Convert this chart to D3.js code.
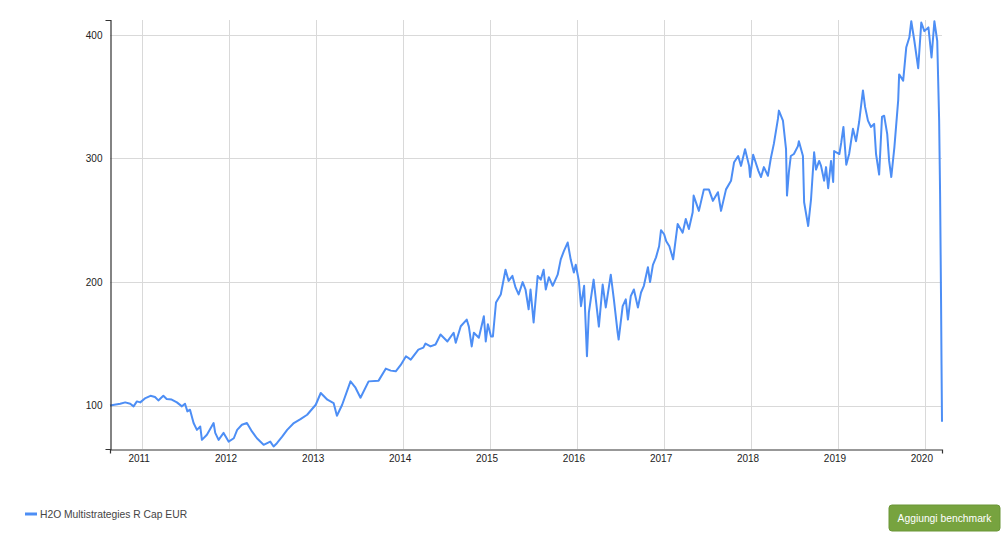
<!DOCTYPE html>
<html>
<head>
<meta charset="utf-8">
<script src="https://cdn.jsdelivr.net/npm/d3@7/dist/d3.min.js"></script>
<style>
  html, body { margin: 0; padding: 0; background: #fff; }
  svg { display: block; font-family: Arial, "Liberation Sans", sans-serif; }
</style>
</head>
<body>
<svg id="chart" width="1004" height="535"></svg>
<script>
// ---- DATA ----
const seriesName = "H2O Multistrategies R Cap EUR";
const buttonLabel = "Aggiungi benchmark";
const yTicks = [100, 200, 300, 400];
const xTickYears = [2011, 2012, 2013, 2014, 2015, 2016, 2017, 2018, 2019, 2020];

const dates = [
  "2010-08-19","2010-10-01","2010-10-22","2010-11-12","2010-11-26","2010-12-10","2010-12-24","2011-01-15",
  "2011-02-05","2011-02-24","2011-03-10","2011-03-31","2011-04-14","2011-05-05","2011-05-27","2011-06-17",
  "2011-06-30","2011-07-10","2011-07-21","2011-08-05","2011-08-19","2011-09-02","2011-09-09","2011-09-30",
  "2011-10-28","2011-11-04","2011-11-18","2011-12-09","2011-12-30","2012-01-21","2012-02-04","2012-02-24",
  "2012-03-16","2012-04-06","2012-04-27","2012-05-25","2012-06-22","2012-07-06","2012-07-20","2012-08-11",
  "2012-09-01","2012-09-29","2012-10-27","2012-11-24","2012-12-30","2013-01-20","2013-02-17","2013-03-15",
  "2013-03-29","2013-04-20","2013-05-25",
  "2013-06-15","2013-07-06","2013-08-09","2013-09-20","2013-10-20","2013-11-10","2013-12-01","2013-12-22",
  "2014-01-13","2014-02-02","2014-03-06","2014-03-27","2014-04-05","2014-04-26","2014-05-17","2014-06-07",
  "2014-07-06","2014-08-01","2014-08-10","2014-08-31","2014-09-25","2014-10-04","2014-10-16","2014-10-25",
  "2014-11-15","2014-12-06","2014-12-14","2014-12-23","2015-01-05","2015-01-13","2015-01-26","2015-02-15",
  "2015-03-07","2015-03-20","2015-04-05","2015-04-18","2015-05-01","2015-05-18","2015-05-30","2015-06-12",
  "2015-06-20","2015-07-03","2015-07-20","2015-08-02","2015-08-14","2015-08-23","2015-09-05","2015-09-21",
  "2015-10-12","2015-10-25","2015-11-07","2015-11-23","2015-12-06","2015-12-19","2015-12-27","2016-01-09",
  "2016-01-18","2016-01-31","2016-02-12","2016-02-20","2016-03-11","2016-04-02","2016-04-18","2016-05-01",
  "2016-05-22","2016-06-04","2016-06-20","2016-06-24","2016-07-11","2016-07-24","2016-08-02","2016-08-14",
  "2016-08-27","2016-09-13","2016-09-26","2016-10-08","2016-10-25","2016-11-03","2016-11-15","2016-11-28",
  "2016-12-11","2016-12-19","2017-01-01","2017-01-10","2017-01-23","2017-02-08","2017-02-27","2017-03-20",
  "2017-04-02","2017-04-15","2017-05-01","2017-05-05","2017-05-27","2017-06-17","2017-07-08","2017-07-25",
  "2017-08-15","2017-08-28","2017-09-18","2017-10-09","2017-10-22","2017-11-08","2017-11-20","2017-12-07",
  "2017-12-24","2017-12-28","2018-01-10","2018-02-01","2018-02-12","2018-02-24","2018-03-13","2018-03-25",
  "2018-04-07","2018-04-24","2018-04-28","2018-05-15","2018-05-28","2018-06-01","2018-06-09","2018-06-17",
  "2018-06-30","2018-07-17","2018-07-21","2018-08-07","2018-08-12","2018-08-29","2018-09-10","2018-09-23",
  "2018-10-01","2018-10-14","2018-10-22","2018-11-04","2018-11-12","2018-11-21","2018-12-03","2018-12-12",
  "2018-12-16","2019-01-07","2019-01-15","2019-01-24","2019-02-05","2019-02-17","2019-03-05","2019-03-18",
  "2019-03-31","2019-04-16","2019-04-25","2019-05-07","2019-05-20","2019-06-02","2019-06-10","2019-06-23",
  "2019-07-05","2019-07-14","2019-07-27","2019-08-04","2019-08-13","2019-08-26","2019-09-11","2019-09-15",
  "2019-10-02","2019-10-15","2019-10-28","2019-11-05","2019-11-18","2019-12-04","2019-12-17","2019-12-30",
  "2020-01-16","2020-01-29","2020-02-10","2020-02-22","2020-03-01","2020-03-05","2020-03-09","2020-03-11",
  "2020-03-13"
];

const values = [
  100.2,101.6,102.7,101.6,99.5,103.5,102.7,106.2,
  108,107,104.3,108,105.4,105,102.7,99.5,
  101.6,95.4,96.8,86,80.5,83.2,72.4,76.5,
  86,78,72.4,78,71,73.7,80.5,84.6,
  86,79.2,73.7,68.4,71,67,69.7,75,
  80.5,86,89.2,92.7,100.8,110.3,104.9,102.2,
  91.9,100.8,119.7,
  114.6,106.5,119.7,120.3,130,128.4,127.8,133,
  140,137.3,145.4,147,150.3,148,149.5,157.6,
  152,159,151,164.3,169.7,164,148,159,
  155,172.4,152,166,156,156,183.5,190,
  210,201,205,195.7,190,200,194,178,
  194,167.3,205,202,210,194,204,197,
  206,218.4,225,232,218,207.7,214,201,
  180.5,197,140,175.4,202,164,198,179.5,
  206,186,159,153.5,180.5,186,169.7,188.6,
  194,179.5,191.6,197,212,200,214,220,
  229,242,238.7,233,229,218.4,247,240,
  251,243,256.5,270,257.6,275,275,265.7,
  272.7,257.6,275,282,297,302,294,307.4,
  294,285,303,290,285,293,286,300,
  312,332,338.7,330.7,307.6,270,289,302,
  303.6,310,314,302,264.6,245.4,267,305,
  291,298,294,282,293,276,298,281,
  306,303.6,313,325.5,295,303.6,324,314,
  329.5,355,341.7,330.6,325.5,328,303.6,287,
  333.6,334.6,319.7,298,285,309,347,368,
  363,390,398,411,395,373,410,403,
  406,381.7,411,395,330.7,271,186,133,
  87
];

// ---- CHART ----
const svg = d3.select("#chart");
const margin = { left: 110, right: 62, top: 20, bottom: 86 };
const W = 1004, H = 535;
const x0 = margin.left, x1 = W - margin.right;
const y0 = margin.top, y1 = H - margin.bottom;

const parse = d3.timeParse("%Y-%m-%d");
const data = dates.map((d, i) => ({ date: parse(d), value: values[i] }));

const x = d3.scaleTime()
  .domain(d3.extent(data, d => d.date))
  .range([x0, x1]);
const y = d3.scaleLinear()
  .domain([65, 412])
  .range([y1, y0]);

const tickDates = xTickYears.map(yr => new Date(yr, 0, 1));

// gridlines
svg.append("g")
  .selectAll("line")
  .data(yTicks)
  .join("line")
  .attr("x1", x0).attr("x2", x1)
  .attr("y1", d => Math.round(y(d)) + 0.5).attr("y2", d => Math.round(y(d)) + 0.5)
  .attr("stroke", "#d9d9d9").attr("stroke-width", 1);

svg.append("g")
  .selectAll("line")
  .data(tickDates)
  .join("line")
  .attr("x1", d => Math.round(x(d)) + 0.5).attr("x2", d => Math.round(x(d)) + 0.5)
  .attr("y1", y0).attr("y2", y1)
  .attr("stroke", "#d9d9d9").attr("stroke-width", 1);

// line
const line = d3.line()
  .x(d => x(d.date))
  .y(d => y(d.value));

svg.append("path")
  .datum(data)
  .attr("d", line)
  .attr("fill", "none")
  .attr("stroke", "#4d8ef5")
  .attr("stroke-width", 2)
  .attr("stroke-linejoin", "round");

// axes
const yAxis = d3.axisLeft(y)
  .tickValues(yTicks)
  .tickSizeInner(0)
  .tickSizeOuter(5)
  .tickPadding(8)
  .tickFormat(d3.format("d"));

const gy = svg.append("g")
  .attr("transform", `translate(${x0 + 0.5},0)`)
  .call(yAxis);

const xAxis = d3.axisBottom(x)
  .tickValues(tickDates)
  .tickSizeInner(0)
  .tickSizeOuter(4)
  .tickPadding(5)
  .tickFormat(d3.timeFormat("%Y"));

const gx = svg.append("g")
  .attr("transform", `translate(0,${y1 + 0.5})`)
  .call(xAxis);

[gx, gy].forEach(g => {
  g.select(".domain").attr("stroke", "#333").attr("stroke-width", 1.2);
  g.selectAll("text")
    .attr("fill", "#222")
    .style("font-size", "10px")
    .style("font-family", "Arial, 'Liberation Sans', sans-serif");
});
gx.selectAll("text").attr("dx", "-3.5");

// legend
const lg = svg.append("g").attr("transform", "translate(25,514)");
lg.append("line")
  .attr("x1", 0).attr("x2", 12).attr("y1", 0).attr("y2", 0)
  .attr("stroke", "#4d8ef5").attr("stroke-width", 3);
lg.append("text")
  .attr("x", 15).attr("y", 0).attr("dy", "0.35em")
  .attr("fill", "#444")
  .style("font-size", "10.3px")
  .text(seriesName);

// button
const bg = svg.append("g").attr("transform", "translate(889,505)");
bg.append("rect")
  .attr("width", 111).attr("height", 26).attr("rx", 3)
  .attr("fill", "#77a33f").attr("stroke", "#6b9636");
bg.append("text")
  .attr("x", 55.5).attr("y", 13).attr("dy", "0.35em")
  .attr("text-anchor", "middle")
  .attr("fill", "#fff")
  .style("font-size", "10.3px")
  .text(buttonLabel);
</script>
</body>
</html>
